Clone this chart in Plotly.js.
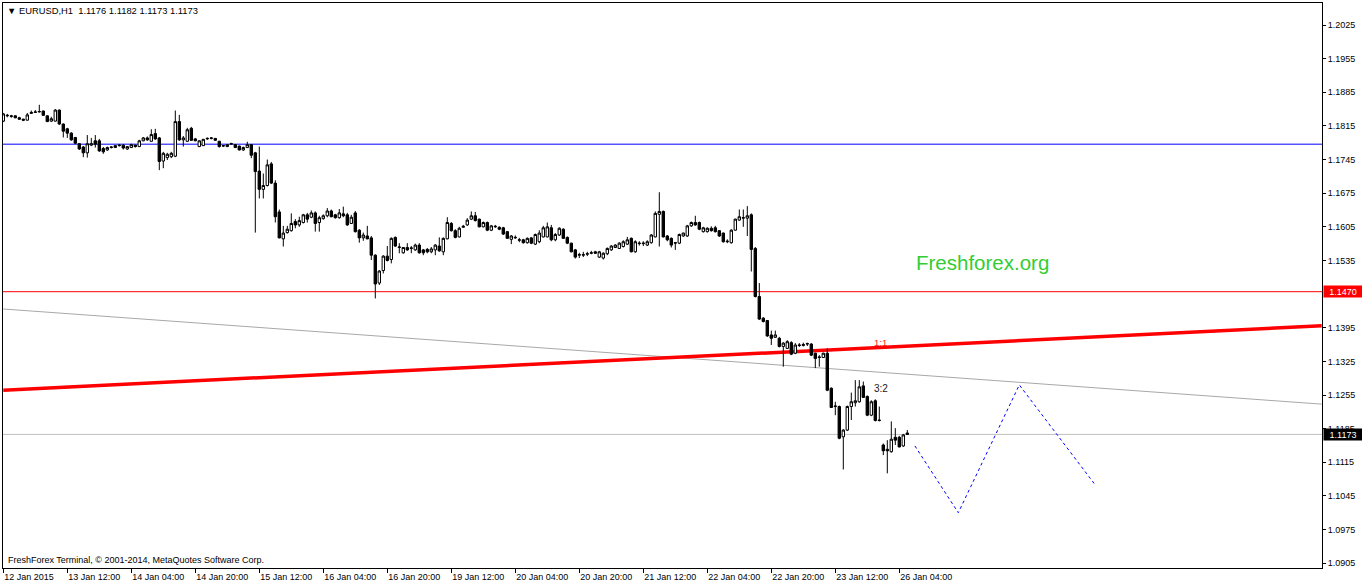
<!DOCTYPE html>
<html>
<head>
<meta charset="utf-8">
<script src="https://cdn.plot.ly/plotly-3.0.1.min.js"></script>
<style>html,body{margin:0;padding:0;background:#fff;}#chart{width:1362px;height:586px;}</style>
</head>
<body>
<div id="chart"></div>
<script>
// ---- DATA (EURUSD H1, bar index 0 = 12 Jan 2015 20:00) ----
const openP = [1.1825,1.1836,1.1836,1.1836,1.1832,1.1829,1.1827,1.1841,1.1843,1.1844,
1.1846,1.1836,1.1825,1.1825,1.1848,1.1819,1.1809,1.1800,1.1791,1.1778,
1.1771,1.1759,1.1775,1.1784,1.1784,1.1768,1.1765,1.1770,1.1770,1.1774,
1.1775,1.1767,1.1770,1.1775,1.1772,1.1784,1.1790,1.1783,1.1799,1.1790,
1.1742,1.1749,1.1751,1.1752,1.1824,1.1786,1.1783,1.1810,1.1788,1.1772,
1.1774,1.1788,1.1789,1.1789,1.1783,1.1773,1.1772,1.1777,1.1776,1.1773,
1.1765,1.1770,1.1776,1.1759,1.1721,1.1683,1.1691,1.1736,1.1696,1.1636,
1.1580,1.1593,1.1597,1.1616,1.1609,1.1614,1.1630,1.1625,1.1634,1.1614,
1.1622,1.1628,1.1638,1.1630,1.1624,1.1632,1.1630,1.1612,1.1634,1.1598,
1.1582,1.1586,1.1582,1.1546,1.1488,1.1514,1.1544,1.1537,1.1583,1.1562,
1.1551,1.1562,1.1560,1.1557,1.1567,1.1557,1.1558,1.1553,1.1557,1.1565,
1.1553,1.1580,1.1612,1.1597,1.1584,1.1604,1.1609,1.1621,1.1628,1.1621,
1.1605,1.1614,1.1598,1.1605,1.1604,1.1603,1.1595,1.1579,1.1582,1.1577,
1.1578,1.1572,1.1582,1.1569,1.1574,1.1584,1.1584,1.1603,1.1578,1.1588,
1.1600,1.1583,1.1571,1.1557,1.1546,1.1546,1.1548,1.1550,1.1553,1.1542,
1.1540,1.1549,1.1557,1.1562,1.1560,1.1564,1.1569,1.1581,1.1553,1.1570,
1.1570,1.1567,1.1572,1.1584,1.1631,1.1637,1.1586,1.1581,1.1571,1.1571,
1.1586,1.1586,1.1607,1.1614,1.1614,1.1595,1.1595,1.1602,1.1603,1.1597,
1.1592,1.1574,1.1572,1.1598,1.1619,1.1623,1.1623,1.1630,1.1560,1.1460,
1.1415,1.1410,1.1380,1.1375,1.1373,1.1356,1.1352,1.1364,1.1342,1.1358,
1.1358,1.1361,1.1361,1.1342,1.1333,1.1333,1.1342,1.1269,1.1231,1.1231,
1.1168,1.1182,1.1231,1.1239,1.1241,1.1274,1.1252,1.1213,1.1243,1.1203,
1.1151,1.1142,1.1137,1.1167,1.1167,1.1149,1.1176];
const highP = [1.1842,1.1840,1.1838,1.1837,1.1834,1.1830,1.1842,1.1847,1.1848,1.1859,
1.1847,1.1837,1.1834,1.1850,1.1849,1.1820,1.1811,1.1802,1.1792,1.1779,
1.1773,1.1796,1.1790,1.1796,1.1788,1.1771,1.1772,1.1773,1.1775,1.1777,
1.1777,1.1773,1.1778,1.1776,1.1786,1.1792,1.1793,1.1808,1.1809,1.1792,
1.1761,1.1759,1.1761,1.1847,1.1838,1.1794,1.1811,1.1813,1.1790,1.1785,
1.1788,1.1791,1.1791,1.1790,1.1784,1.1775,1.1777,1.1780,1.1777,1.1774,
1.1772,1.1782,1.1777,1.1761,1.1772,1.1716,1.1745,1.1740,1.1702,1.1641,
1.1607,1.1607,1.1633,1.1621,1.1626,1.1632,1.1634,1.1639,1.1637,1.1628,
1.1631,1.1644,1.1641,1.1632,1.1642,1.1647,1.1634,1.1630,1.1638,1.1600,
1.1593,1.1607,1.1586,1.1548,1.1515,1.1546,1.1565,1.1583,1.1585,1.1571,
1.1563,1.1571,1.1565,1.1570,1.1571,1.1559,1.1561,1.1563,1.1569,1.1583,
1.1583,1.1625,1.1615,1.1600,1.1605,1.1609,1.1623,1.1637,1.1636,1.1622,
1.1616,1.1616,1.1609,1.1609,1.1606,1.1605,1.1596,1.1588,1.1587,1.1582,
1.1580,1.1583,1.1584,1.1591,1.1598,1.1607,1.1614,1.1609,1.1592,1.1604,
1.1602,1.1585,1.1572,1.1559,1.1551,1.1553,1.1553,1.1555,1.1555,1.1555,
1.1552,1.1562,1.1567,1.1569,1.1573,1.1577,1.1584,1.1583,1.1577,1.1575,
1.1575,1.1577,1.1590,1.1637,1.1677,1.1639,1.1588,1.1583,1.1573,1.1591,
1.1593,1.1609,1.1616,1.1628,1.1616,1.1605,1.1604,1.1606,1.1607,1.1598,
1.1593,1.1579,1.1600,1.1622,1.1641,1.1641,1.1648,1.1633,1.1563,1.1488,
1.1417,1.1411,1.1389,1.1389,1.1376,1.1365,1.1369,1.1367,1.1363,1.1363,
1.1364,1.1364,1.1363,1.1343,1.1338,1.1343,1.1352,1.1271,1.1241,1.1233,
1.1184,1.1233,1.1260,1.1286,1.1286,1.1283,1.1254,1.1244,1.1246,1.1231,
1.1154,1.1161,1.1200,1.1186,1.1170,1.1174,1.1182];
const lowP = [1.1823,1.1833,1.1832,1.1831,1.1828,1.1825,1.1826,1.1840,1.1842,1.1843,
1.1836,1.1823,1.1823,1.1824,1.1817,1.1791,1.1790,1.1784,1.1777,1.1765,
1.1750,1.1749,1.1773,1.1770,1.1761,1.1757,1.1763,1.1768,1.1769,1.1772,
1.1766,1.1765,1.1769,1.1770,1.1771,1.1783,1.1784,1.1782,1.1786,1.1723,
1.1727,1.1744,1.1748,1.1750,1.1784,1.1772,1.1782,1.1784,1.1783,1.1771,
1.1773,1.1786,1.1787,1.1784,1.1770,1.1771,1.1771,1.1776,1.1769,1.1764,
1.1763,1.1769,1.1748,1.1593,1.1664,1.1664,1.1689,1.1694,1.1614,1.1581,
1.1564,1.1591,1.1595,1.1602,1.1605,1.1612,1.1614,1.1623,1.1595,1.1595,
1.1620,1.1625,1.1625,1.1622,1.1622,1.1625,1.1607,1.1611,1.1593,1.1572,
1.1576,1.1579,1.1536,1.1456,1.1484,1.1508,1.1533,1.1529,1.1563,1.1550,
1.1549,1.1555,1.1550,1.1555,1.1549,1.1546,1.1550,1.1550,1.1546,1.1553,
1.1546,1.1579,1.1595,1.1581,1.1583,1.1603,1.1607,1.1619,1.1616,1.1604,
1.1604,1.1596,1.1596,1.1603,1.1598,1.1588,1.1580,1.1569,1.1580,1.1573,
1.1570,1.1570,1.1569,1.1567,1.1571,1.1583,1.1583,1.1575,1.1575,1.1586,
1.1580,1.1569,1.1552,1.1539,1.1540,1.1542,1.1544,1.1548,1.1549,1.1540,
1.1537,1.1546,1.1555,1.1561,1.1559,1.1562,1.1567,1.1552,1.1551,1.1566,
1.1565,1.1565,1.1570,1.1583,1.1564,1.1583,1.1575,1.1562,1.1557,1.1569,
1.1584,1.1584,1.1605,1.1607,1.1598,1.1593,1.1593,1.1595,1.1593,1.1584,
1.1572,1.1571,1.1570,1.1597,1.1618,1.1605,1.1586,1.1512,1.1458,1.1411,
1.1406,1.1376,1.1359,1.1374,1.1354,1.1314,1.1351,1.1338,1.1340,1.1355,
1.1356,1.1357,1.1336,1.1311,1.1314,1.1332,1.1263,1.1228,1.1213,1.1163,
1.1100,1.1180,1.1203,1.1231,1.1239,1.1249,1.1211,1.1211,1.1200,1.1200,
1.1130,1.1092,1.1135,1.1151,1.1146,1.1147,1.1173];
const closeP = [1.1840,1.1837,1.1835,1.1832,1.1829,1.1827,1.1838,1.1843,1.1844,1.1845,
1.1837,1.1824,1.1830,1.1848,1.1819,1.1804,1.1800,1.1786,1.1779,1.1767,
1.1759,1.1778,1.1778,1.1777,1.1763,1.1761,1.1770,1.1771,1.1774,1.1775,
1.1769,1.1772,1.1776,1.1772,1.1784,1.1790,1.1786,1.1797,1.1788,1.1741,
1.1758,1.1756,1.1758,1.1824,1.1786,1.1790,1.1807,1.1785,1.1784,1.1784,
1.1787,1.1789,1.1790,1.1785,1.1772,1.1774,1.1776,1.1778,1.1770,1.1765,
1.1770,1.1776,1.1754,1.1720,1.1683,1.1691,1.1734,1.1696,1.1626,1.1582,
1.1592,1.1600,1.1612,1.1609,1.1618,1.1630,1.1621,1.1634,1.1612,1.1624,
1.1628,1.1638,1.1626,1.1624,1.1634,1.1628,1.1609,1.1625,1.1595,1.1582,
1.1588,1.1580,1.1546,1.1486,1.1513,1.1544,1.1535,1.1581,1.1565,1.1563,
1.1562,1.1557,1.1561,1.1567,1.1551,1.1551,1.1553,1.1559,1.1567,1.1555,
1.1581,1.1614,1.1597,1.1583,1.1602,1.1606,1.1619,1.1628,1.1618,1.1605,
1.1614,1.1598,1.1607,1.1606,1.1600,1.1590,1.1581,1.1586,1.1583,1.1578,
1.1572,1.1581,1.1571,1.1589,1.1592,1.1603,1.1605,1.1578,1.1589,1.1602,
1.1581,1.1571,1.1553,1.1542,1.1547,1.1547,1.1549,1.1551,1.1550,1.1553,
1.1550,1.1560,1.1565,1.1567,1.1571,1.1574,1.1578,1.1553,1.1574,1.1571,
1.1571,1.1574,1.1588,1.1633,1.1637,1.1584,1.1578,1.1567,1.1572,1.1589,
1.1592,1.1607,1.1614,1.1609,1.1600,1.1603,1.1602,1.1597,1.1595,1.1586,
1.1574,1.1575,1.1598,1.1621,1.1626,1.1624,1.1628,1.1558,1.1460,1.1413,
1.1408,1.1378,1.1373,1.1380,1.1356,1.1363,1.1366,1.1340,1.1359,1.1359,
1.1360,1.1362,1.1338,1.1331,1.1334,1.1342,1.1265,1.1229,1.1232,1.1165,
1.1182,1.1231,1.1241,1.1243,1.1272,1.1250,1.1213,1.1241,1.1202,1.1202,
1.1139,1.1139,1.1163,1.1161,1.1147,1.1172,1.1173];

const xTickBars = [0,16,32,48,64,80,96,112,128,144,160,176,192,208,224];
const xTickLabels = ["12 Jan 2015","13 Jan 12:00","14 Jan 04:00","14 Jan 20:00","15 Jan 12:00",
  "16 Jan 04:00","16 Jan 20:00","19 Jan 12:00","20 Jan 04:00","20 Jan 20:00","21 Jan 12:00",
  "22 Jan 04:00","22 Jan 20:00","23 Jan 12:00","26 Jan 04:00"];
const yTickVals = [1.0905,1.0975,1.1045,1.1115,1.1185,1.1255,1.1325,1.1395,
  1.1535,1.1605,1.1675,1.1745,1.1815,1.1885,1.1955,1.2025];

const blueLevel = 1.1777;
const redLevel = 1.1470;
const bidLevel = 1.1173;
const redTrendX = [0, 329.6];
const redTrendY = [1.1265, 1.1399];
const greyTrendX = [0, 329.6];
const greyTrendY = [1.1434, 1.1236];
const zigzagX = [227.9, 238.75, 254.0, 272.7];
const zigzagY = [1.1149, 1.1010, 1.1276, 1.1071];

// ---- CHART ----
const FONT = "Liberation Sans, Arial, sans-serif";
const barIdx = openP.map((_, i) => i);

const candles = {
  type: 'candlestick',
  x: barIdx, open: openP, high: highP, low: lowP, close: closeP,
  increasing: {line: {color: '#000000', width: 1}, fillcolor: '#ffffff'},
  decreasing: {line: {color: '#000000', width: 1}, fillcolor: '#000000'},
  whiskerwidth: 0,
  hoverinfo: 'skip',
  showlegend: false
};
const zigzag = {
  type: 'scatter', mode: 'lines', x: zigzagX, y: zigzagY,
  line: {color: '#0000ff', width: 1, dash: 'dot'},
  hoverinfo: 'skip', showlegend: false
};

const shapes = [
  {type:'line', layer:'below', xref:'paper', x0:0, x1:1, yref:'y', y0:blueLevel, y1:blueLevel, line:{color:'#0000ff', width:1}},
  {type:'line', layer:'below', xref:'paper', x0:0, x1:1, yref:'y', y0:redLevel, y1:redLevel, line:{color:'#ff0000', width:1}},
  {type:'line', layer:'below', xref:'paper', x0:0, x1:1, yref:'y', y0:bidLevel, y1:bidLevel, line:{color:'#c0c0c0', width:1}},
  {type:'line', layer:'below', xref:'x', yref:'y', x0:greyTrendX[0], x1:greyTrendX[1], y0:greyTrendY[0], y1:greyTrendY[1], line:{color:'#a8a8a8', width:1}},
  {type:'line', layer:'below', xref:'x', yref:'y', x0:redTrendX[0], x1:redTrendX[1], y0:redTrendY[0], y1:redTrendY[1], line:{color:'#ff0000', width:3.5}}
];

const annotations = [
  {xref:'paper', yref:'paper', x:0.0015, y:0.9876, xanchor:'left', yanchor:'middle', showarrow:false,
   text:'▼ EURUSD,H1  1.1176 1.1182 1.1173 1.1173', font:{family:FONT, size:9.4, color:'#000'}},
  {xref:'paper', yref:'paper', x:0.0025, y:0.0142, xanchor:'left', yanchor:'middle', showarrow:false,
   text:'FreshForex Terminal, © 2001-2014, MetaQuotes Software Corp.', font:{family:FONT, size:9, color:'#000'}},
  {xref:'x', yref:'y', x:227.6, y:1.1530, xanchor:'left', yanchor:'middle', showarrow:false,
   text:'Freshforex.org', font:{family:FONT, size:20.5, color:'#32cd32'}},
  {xref:'x', yref:'y', x:217.1, y:1.13643, xanchor:'left', yanchor:'middle', showarrow:false,
   text:'1:1', font:{family:FONT, size:9.5, color:'#ff2020'}},
  {xref:'x', yref:'y', x:217.1, y:1.12690, xanchor:'left', yanchor:'middle', showarrow:false,
   text:'3:2', font:{family:FONT, size:10, color:'#202020'}},
  {xref:'paper', yref:'y', x:1.0008, y:redLevel, xanchor:'left', yanchor:'middle', showarrow:false,
   text:'1.1470', bgcolor:'#ff0000', width:38, height:11, borderpad:0,
   font:{family:FONT, size:9, color:'#ffffff'}},
  {xref:'paper', yref:'y', x:1.0008, y:bidLevel, xanchor:'left', yanchor:'middle', showarrow:false,
   text:'1.1173', bgcolor:'#000000', width:38, height:11, borderpad:0,
   font:{family:FONT, size:9, color:'#ffffff'}}
];

const layout = {
  width: 1362, height: 586,
  margin: {l: 3, r: 40, t: 3, b: 18, pad: 0},
  paper_bgcolor: '#ffffff', plot_bgcolor: '#ffffff',
  showlegend: false,
  boxgap: 0.4, boxgroupgap: 0,
  font: {family: FONT, size: 9, color: '#000'},
  xaxis: {
    range: [-0.075, 329.675], showgrid: false, zeroline: false,
    showline: true, mirror: true, linecolor: '#000', linewidth: 1,
    tickmode: 'array', tickvals: xTickBars, ticktext: xTickLabels,
    ticks: 'outside', ticklen: 4, tickcolor: '#000', tickwidth: 1,
    ticklabelposition: 'outside right',
    tickfont: {family: FONT, size: 9, color: '#000'},
    rangeslider: {visible: false}, fixedrange: true
  },
  yaxis: {
    range: [1.0895, 1.20708], side: 'right', showgrid: false, zeroline: false,
    showline: true, mirror: true, linecolor: '#000', linewidth: 1,
    tickmode: 'array', tickvals: yTickVals, tickformat: '.4f',
    ticks: 'outside', ticklen: 3, tickcolor: '#000', tickwidth: 1,
    tickfont: {family: FONT, size: 9, color: '#000'},
    fixedrange: true
  },
  shapes: shapes,
  annotations: annotations
};

Plotly.newPlot('chart', [candles, zigzag], layout, {staticPlot: true, displayModeBar: false});
</script>
</body>
</html>
